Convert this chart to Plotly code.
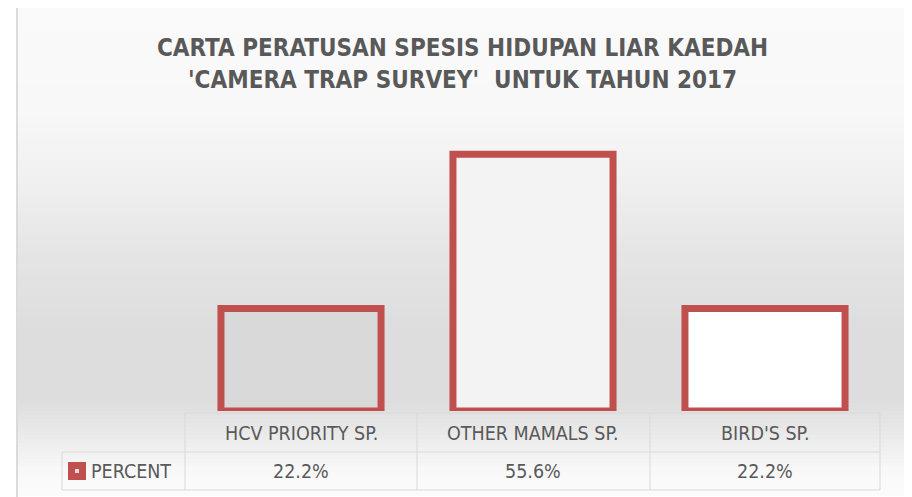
import plotly.graph_objects as go

categories = ["HCV PRIORITY SP.", "OTHER MAMALS SP.", "BIRD'S SP."]
percent = [22.2, 55.6, 22.2]
series_name = "PERCENT"
title_lines = ["CARTA PERATUSAN SPESIS HIDUPAN LIAR KAEDAH", "'CAMERA TRAP SURVEY'  UNTUK TAHUN 2017"]

OFF = 8  # page body margin
W, H = 904, 489
L, T = 185 - OFF, 134 - OFF
PLOT_RIGHT, PLOT_BOTTOM = 881 - OFF, 411 - OFF
R, B = W - PLOT_RIGHT, H - PLOT_BOTTOM
PW, PH = PLOT_RIGHT - L, PLOT_BOTTOM - T

def px(x):
    return (x - OFF - L) / PW

def py(y):
    return (PLOT_BOTTOM - (y - OFF)) / PH

RED = "#c0504d"
GRID = "#d9d9d9"
TXT = "#595959"
FONT = "DejaVu Sans Condensed, Liberation Sans Narrow, Arial Narrow, sans-serif"

fig = go.Figure()
fig.add_trace(go.Bar(
    x=categories, y=percent, name=series_name, width=0.69,
    marker=dict(color=["#d9d9d9", "#f3f3f3", "#ffffff"], line=dict(color=RED, width=7)),
    hoverinfo="x+y", showlegend=False,
))

shapes = []
stops = [(6, 250), (110, 248), (180, 240), (260, 228), (330, 221), (400, 221), (440, 236), (470, 248), (497, 252)]
def grey_at(y):
    for (y0, c0), (y1, c1) in zip(stops, stops[1:]):
        if y0 <= y <= y1:
            t = (y - y0) / (y1 - y0)
            return c0 + (c1 - c0) * t
    return stops[-1][1]
step = 4
y = 7
while y < 496:
    g = int(round(grey_at(y + step / 2)))
    shapes.append(dict(type="rect", xref="paper", yref="paper", x0=px(18), x1=px(905),
                       y0=py(min(y + step, 496)), y1=py(y), line=dict(width=0),
                       fillcolor=f"rgb({g},{g},{g})", layer="below"))
    y += step
shapes.append(dict(type="rect", xref="paper", yref="paper", x0=px(17), x1=px(905), y0=py(498), y1=py(6),
                   line=dict(color="#d0d0d0", width=1.5), fillcolor="rgba(0,0,0,0)", layer="below"))

ln = dict(color=GRID, width=1)
shapes.append(dict(type="line", xref="paper", yref="paper", x0=px(185), x1=px(880), y0=py(413), y1=py(413), line=ln))
shapes.append(dict(type="line", xref="paper", yref="paper", x0=px(62), x1=px(880), y0=py(452), y1=py(452), line=ln))
shapes.append(dict(type="line", xref="paper", yref="paper", x0=px(62), x1=px(880), y0=py(490), y1=py(490), line=ln))
for xv in [185, 417, 650, 880]:
    shapes.append(dict(type="line", xref="paper", yref="paper", x0=px(xv), x1=px(xv), y0=py(490), y1=py(413), line=ln))
shapes.append(dict(type="line", xref="paper", yref="paper", x0=px(62), x1=px(62), y0=py(490), y1=py(452), line=ln))
shapes.append(dict(type="rect", xref="paper", yref="paper", x0=px(68), x1=px(86), y0=py(480), y1=py(462),
                   line=dict(width=0), fillcolor=RED))
shapes.append(dict(type="rect", xref="paper", yref="paper", x0=px(75), x1=px(79), y0=py(473), y1=py(469),
                   line=dict(width=0), fillcolor="#f2dcdb"))

annotations = []
for i, c in enumerate(categories):
    annotations.append(dict(x=c, xref="x", y=py(433), yref="paper", text=c, showarrow=False,
                            font=dict(family=FONT, size=19.5, color=TXT), xanchor="center", yanchor="middle"))
    annotations.append(dict(x=c, xref="x", y=py(471), yref="paper", text=f"{percent[i]:.1f}%", showarrow=False,
                            font=dict(family=FONT, size=19.5, color=TXT), xanchor="center", yanchor="middle"))
annotations.append(dict(x=px(89), xref="paper", y=py(471), yref="paper", text=series_name, showarrow=False,
                        font=dict(family=FONT, size=19.5, color=TXT), xanchor="left", yanchor="middle"))
annotations.append(dict(x=px(462), xref="paper", y=py(48), yref="paper", text="<b>" + title_lines[0] + "</b>", showarrow=False,
                        font=dict(family=FONT, size=24, color=TXT), xanchor="center", yanchor="middle"))
annotations.append(dict(x=px(462), xref="paper", y=py(80), yref="paper", text="<b>" + title_lines[1] + "</b>", showarrow=False,
                        font=dict(family=FONT, size=24, color=TXT), xanchor="center", yanchor="middle"))

fig.update_layout(
    width=W, height=H, margin=dict(l=L, r=R, t=T, b=B),
    paper_bgcolor="white", plot_bgcolor="rgba(0,0,0,0)",
    xaxis=dict(showticklabels=False, showgrid=False, zeroline=False, showline=False, ticks=""),
    yaxis=dict(range=[0, 60], visible=False, showgrid=False),
    shapes=shapes, annotations=annotations, bargap=0.31,
)
fig.write_html("out.html")
